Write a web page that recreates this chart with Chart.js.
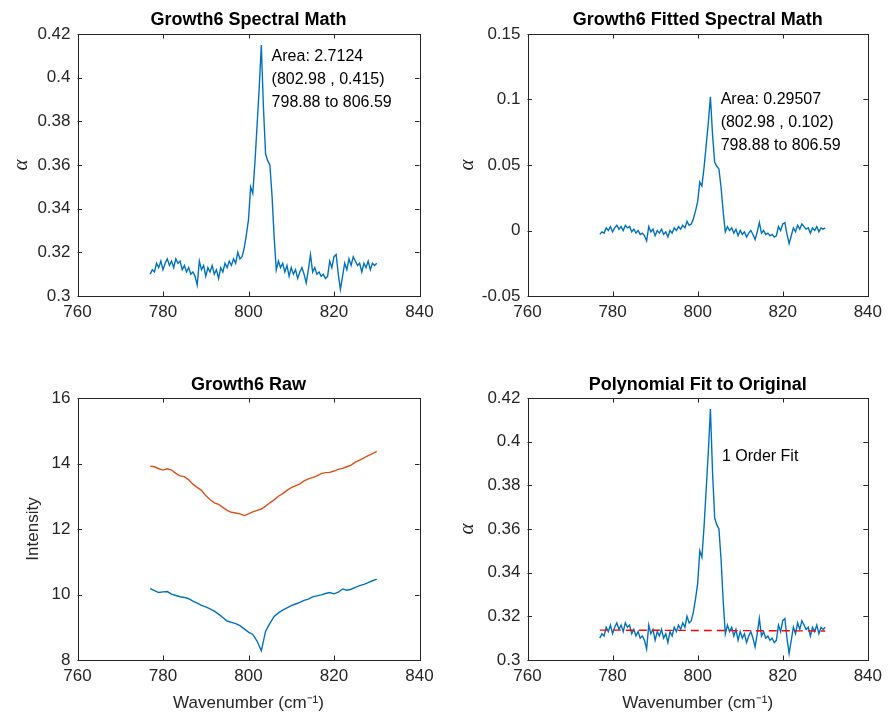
<!DOCTYPE html>
<html lang="en">
<head>
<meta charset="UTF-8">
<title>Growth6 spectra</title>
<script src="https://cdn.jsdelivr.net/npm/chart.js"></script>
<style>
  html, body { margin: 0; padding: 0; background: #ffffff; }
  #fig { position: relative; width: 888px; height: 721px; background: #ffffff; }
  .panel { position: absolute; width: 444px; }
  #pTL { left: 0; top: 0; height: 361px; }
  #pTR { left: 444px; top: 0; height: 361px; }
  #pBL { left: 0; top: 361px; height: 360px; }
  #pBR { left: 444px; top: 361px; height: 360px; }
</style>
</head>
<body>
<div id="fig">
  <div class="panel" id="pTL"><canvas id="cTL"></canvas></div>
  <div class="panel" id="pTR"><canvas id="cTR"></canvas></div>
  <div class="panel" id="pBL"><canvas id="cBL"></canvas></div>
  <div class="panel" id="pBR"><canvas id="cBR"></canvas></div>
</div>

<script>
// wavenumber grid of the spectral math curves (cm-1)
const wavenumbers = [
  777.0, 777.5, 778.0, 778.5, 779.0, 779.5, 780.0, 780.5, 781.0, 781.5,
  782.0, 782.5, 783.0, 783.5, 784.0, 784.5, 785.0, 785.5, 786.0, 786.5,
  787.0, 787.5, 788.0, 788.5, 789.0, 789.5, 790.0, 790.5, 791.0, 791.5,
  792.0, 792.5, 793.0, 793.5, 794.0, 794.5, 795.0, 795.5, 796.0, 796.5,
  797.0, 797.5, 798.0, 798.5, 799.0, 799.5, 800.0, 800.5, 801.0, 801.5,
  802.0, 802.5, 803.0, 803.5, 804.0, 804.5, 805.0, 805.5, 806.0, 806.5,
  807.0, 807.5, 808.0, 808.5, 809.0, 809.5, 810.0, 810.5, 811.0, 811.5,
  812.0, 812.5, 813.0, 813.5, 814.0, 814.5, 815.0, 815.5, 816.0, 816.5,
  817.0, 817.5, 818.0, 818.5, 819.0, 819.5, 820.0, 820.5, 821.0, 821.5,
  822.0, 822.5, 823.0, 823.5, 824.0, 824.5, 825.0, 825.5, 826.0, 826.5,
  827.0, 827.5, 828.0, 828.5, 829.0, 829.5, 830.0
];

// alpha, original spectral math (top left and bottom right)
const alphaOriginal = [
  0.310, 0.312, 0.311, 0.315, 0.313, 0.316, 0.312, 0.315, 0.317, 0.314,
  0.316, 0.313, 0.317, 0.315, 0.316, 0.312, 0.314, 0.311, 0.313, 0.310,
  0.311, 0.309, 0.305, 0.316, 0.312, 0.314, 0.309, 0.313, 0.311, 0.314,
  0.310, 0.312, 0.308, 0.313, 0.311, 0.315, 0.313, 0.316, 0.314, 0.317,
  0.315, 0.320, 0.317, 0.318, 0.322, 0.328, 0.335, 0.350, 0.347, 0.361,
  0.378, 0.395, 0.415, 0.386, 0.365, 0.362, 0.360, 0.346, 0.327, 0.312,
  0.316, 0.313, 0.315, 0.311, 0.314, 0.309, 0.313, 0.310, 0.312, 0.308,
  0.311, 0.313, 0.310, 0.306, 0.312, 0.319, 0.311, 0.313, 0.310, 0.311,
  0.309, 0.310, 0.308, 0.309, 0.316, 0.313, 0.318, 0.319, 0.310, 0.303,
  0.309, 0.315, 0.312, 0.317, 0.314, 0.318, 0.316, 0.314, 0.315, 0.311,
  0.315, 0.313, 0.316, 0.312, 0.315, 0.314, 0.315
];

// alpha after baseline removal (top right)
const alphaFitted = [
  -0.003, -0.001, -0.002, 0.002, 0.000, 0.003, -0.001, 0.002, 0.004, 0.001,
  0.003, 0.000, 0.004, 0.002, 0.003, -0.001, 0.001, -0.002, 0.000, -0.003,
  -0.002, -0.004, -0.008, 0.003, -0.001, 0.001, -0.004, 0.000, -0.002, 0.001,
  -0.003, -0.001, -0.005, 0.000, -0.002, 0.002, 0.000, 0.003, 0.001, 0.004,
  0.002, 0.007, 0.004, 0.005, 0.009, 0.015, 0.022, 0.037, 0.034, 0.048,
  0.065, 0.082, 0.102, 0.073, 0.052, 0.049, 0.047, 0.033, 0.014, -0.001,
  0.003, 0.000, 0.002, -0.002, 0.001, -0.004, 0.000, -0.003, -0.001, -0.005,
  -0.002, 0.000, -0.003, -0.007, -0.001, 0.006, -0.002, 0.000, -0.003, -0.002,
  -0.004, -0.003, -0.005, -0.004, 0.003, 0.000, 0.005, 0.006, -0.003, -0.010,
  -0.004, 0.002, -0.001, 0.004, 0.001, 0.005, 0.003, 0.001, 0.002, -0.002,
  0.002, 0.000, 0.003, -0.001, 0.002, 0.001, 0.002
];

// raw intensities (bottom left)
const rawWavenumbers = [
  777, 778, 779, 780, 781, 782, 783, 784, 785, 786,
  787, 788, 789, 790, 791, 792, 793, 794, 795, 796,
  797, 798, 799, 800, 801, 802, 803, 804, 805, 806,
  807, 808, 809, 810, 811, 812, 813, 814, 815, 816,
  817, 818, 819, 820, 821, 822, 823, 824, 825, 826,
  827, 828, 829, 830
];
const rawReference = [
  13.92, 13.90, 13.84, 13.80, 13.84, 13.80, 13.70, 13.62, 13.60, 13.50,
  13.37, 13.27, 13.18, 13.02, 12.90, 12.80, 12.75, 12.66, 12.57, 12.51,
  12.49, 12.46, 12.41, 12.46, 12.52, 12.57, 12.61, 12.70, 12.80, 12.89,
  13.00, 13.08, 13.18, 13.26, 13.32, 13.38, 13.47, 13.53, 13.57, 13.62,
  13.69, 13.72, 13.73, 13.77, 13.82, 13.85, 13.90, 13.95, 14.04, 14.10,
  14.17, 14.24, 14.30, 14.37
];
const rawSample = [
  10.18, 10.12, 10.06, 10.08, 10.09, 10.01, 9.97, 9.93, 9.91, 9.87,
  9.80, 9.74, 9.67, 9.62, 9.56, 9.49, 9.40, 9.30, 9.19, 9.15,
  9.11, 9.05, 8.95, 8.85, 8.78, 8.58, 8.28, 8.88, 9.12, 9.33,
  9.44, 9.52, 9.59, 9.66, 9.71, 9.76, 9.82, 9.86, 9.93, 9.96,
  9.99, 10.03, 10.06, 10.02, 10.07, 10.17, 10.13, 10.16, 10.22, 10.27,
  10.31, 10.36, 10.42, 10.47
];

// 1st order polynomial baseline (bottom right)
const fitWavenumbers = [777, 830];
const fitAlpha = [0.3137, 0.3133];

// tick values
const wavenumberTicks = [760, 780, 800, 820, 840];
const alphaTicks = [0.3, 0.32, 0.34, 0.36, 0.38, 0.4, 0.42];
const fittedTicks = [-0.05, 0, 0.05, 0.1, 0.15];
const intensityTicks = [8, 10, 12, 14, 16];

// text notes
const notesOriginal = ['Area: 2.7124', '(802.98 , 0.415)', '798.88 to 806.59'];
const notesFitted = ['Area: 0.29507', '(802.98 , 0.102)', '798.88 to 806.59'];
const notesFit = ['1 Order Fit'];

const FONT = '"Liberation Sans", Arial, Helvetica, sans-serif';
const AXIS_COLOR = '#262626';
const BLUE = '#0072BD';
const ORANGE = '#D95319';

function xy(xs, ys) {
  return xs.map((x, i) => ({ x: x, y: ys[i] }));
}

// matlab style box with inward ticks on all four sides
const boxTicks = {
  id: 'boxTicks',
  afterDraw(chart) {
    const { ctx, chartArea: a, scales } = chart;
    const len = 4.5;
    ctx.save();
    ctx.strokeStyle = AXIS_COLOR;
    ctx.lineWidth = 1;
    ctx.beginPath();
    scales.x.ticks.forEach(t => {
      const px = Math.round(scales.x.getPixelForValue(t.value)) + 0.5;
      ctx.moveTo(px, a.bottom); ctx.lineTo(px, a.bottom - len);
      ctx.moveTo(px, a.top); ctx.lineTo(px, a.top + len);
    });
    scales.y.ticks.forEach(t => {
      const py = Math.round(scales.y.getPixelForValue(t.value)) + 0.5;
      ctx.moveTo(a.left, py); ctx.lineTo(a.left + len, py);
      ctx.moveTo(a.right, py); ctx.lineTo(a.right - len, py);
    });
    ctx.stroke();
    ctx.strokeRect(Math.round(a.left) + 0.5, Math.round(a.top) + 0.5,
      Math.round(a.right - a.left), Math.round(a.bottom - a.top));
    ctx.restore();
  }
};

// text placed at data coordinates, one line under the other
const peakNotes = {
  id: 'peakNotes',
  afterDatasetsDraw(chart, args, opts) {
    if (!opts || !opts.lines) return;
    const { ctx, scales } = chart;
    const x = scales.x.getPixelForValue(opts.x);
    const y = scales.y.getPixelForValue(opts.y);
    ctx.save();
    ctx.fillStyle = '#000000';
    ctx.font = '16px ' + FONT;
    ctx.textAlign = 'left';
    ctx.textBaseline = 'middle';
    opts.lines.forEach((s, i) => ctx.fillText(s, x, y + i * 23));
    ctx.restore();
  }
};

function makePanel(canvasId, p) {
  return new Chart(document.getElementById(canvasId), {
    type: 'line',
    data: { datasets: p.datasets },
    options: {
      responsive: true,
      maintainAspectRatio: false,
      animation: false,
      layout: { padding: { left: 0, right: p.padRight, top: 0, bottom: 0 } },
      elements: {
        point: { radius: 0 },
        line: { borderWidth: 1.4, tension: 0 }
      },
      plugins: {
        legend: { display: false },
        tooltip: { enabled: false },
        title: {
          display: true,
          text: p.title,
          fullSize: false,
          color: '#000000',
          font: { family: FONT, size: 18, weight: 'bold' },
          padding: { top: p.titleTop, bottom: p.titleBottom }
        },
        peakNotes: p.notes || {}
      },
      scales: {
        x: {
          type: 'linear',
          min: 760,
          max: 840,
          afterBuildTicks: s => { s.ticks = wavenumberTicks.map(v => ({ value: v })); },
          afterFit: s => { s.height = p.xHeight; },
          grid: { display: false, drawTicks: false },
          border: { display: false },
          ticks: {
            color: AXIS_COLOR,
            font: { family: FONT, size: 17 },
            padding: 6,
            maxRotation: 0,
            callback: v => String(v)
          },
          title: {
            display: !!p.xTitle,
            text: p.xTitle || '',
            color: AXIS_COLOR,
            font: { family: FONT, size: 17 },
            padding: { top: 0, bottom: 7.8 }
          }
        },
        y: {
          type: 'linear',
          min: p.yTicks[0],
          max: p.yTicks[p.yTicks.length - 1],
          afterBuildTicks: s => { s.ticks = p.yTicks.map(v => ({ value: v })); },
          afterFit: s => { s.width = p.yWidth; },
          grid: { display: false, drawTicks: false },
          border: { display: false },
          ticks: {
            color: AXIS_COLOR,
            font: { family: FONT, size: 17 },
            padding: 7,
            callback: v => String(v)
          },
          title: {
            display: true,
            text: p.yTitle,
            color: AXIS_COLOR,
            font: p.yFont,
            padding: { top: p.yTitlePad, bottom: 0 }
          }
        }
      }
    },
    plugins: [boxTicks, peakNotes]
  });
}

const alphaFont = { family: '"Liberation Serif", "DejaVu Serif", serif', size: 21, style: 'italic' };

makePanel('cTL', {
  title: 'Growth6 Spectral Math',
  titleTop: 9.7, titleBottom: 2.7,
  yWidth: 77.5, padRight: 24.5, xHeight: 65,
  yTicks: alphaTicks, yTitle: 'α', yFont: alphaFont, yTitlePad: 8.4,
  notes: { x: 805.4, y: 0.4096, lines: notesOriginal },
  datasets: [
    { data: xy(wavenumbers, alphaOriginal), borderColor: BLUE }
  ]
});

makePanel('cTR', {
  title: 'Growth6 Fitted Spectral Math',
  titleTop: 9.7, titleBottom: 2.7,
  yWidth: 83.5, padRight: 18.5, xHeight: 65,
  yTicks: fittedTicks, yTitle: 'α', yFont: alphaFont, yTitlePad: 10.4,
  notes: { x: 805.4, y: 0.0996, lines: notesFitted },
  datasets: [
    { data: xy(wavenumbers, alphaFitted), borderColor: BLUE }
  ]
});

makePanel('cBL', {
  title: 'Growth6 Raw',
  titleTop: 13.0, titleBottom: 2.4,
  yWidth: 77.5, padRight: 24.5, xHeight: 61,
  yTicks: intensityTicks, yTitle: 'Intensity',
  yFont: { family: FONT, size: 17 }, yTitlePad: 22.8,
  xTitle: 'Wavenumber (cm⁻¹)',
  datasets: [
    { data: xy(rawWavenumbers, rawSample), borderColor: BLUE },
    { data: xy(rawWavenumbers, rawReference), borderColor: ORANGE }
  ]
});

makePanel('cBR', {
  title: 'Polynomial Fit to Original',
  titleTop: 13.0, titleBottom: 2.4,
  yWidth: 83.5, padRight: 18.5, xHeight: 61,
  yTicks: alphaTicks, yTitle: 'α', yFont: alphaFont, yTitlePad: 10.4,
  xTitle: 'Wavenumber (cm⁻¹)',
  notes: { x: 805.7, y: 0.3931, lines: notesFit },
  datasets: [
    { data: xy(fitWavenumbers, fitAlpha), borderColor: '#FF0000', borderDash: [8, 5] },
    { data: xy(wavenumbers, alphaOriginal), borderColor: BLUE }
  ]
});
</script>
</body>
</html>
